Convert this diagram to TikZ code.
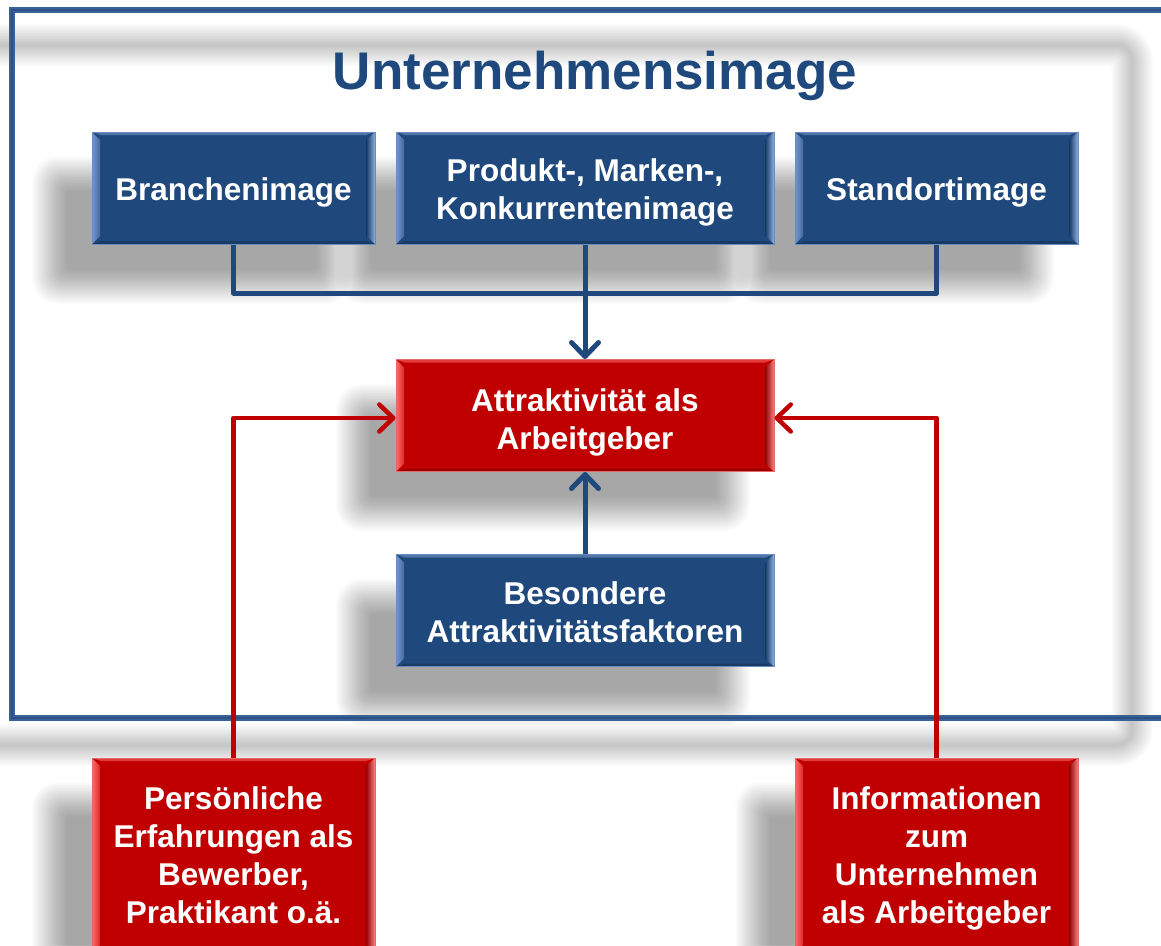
\documentclass[tikz,border=0pt]{standalone}
\usepackage{fontspec}
\setmainfont{Liberation Sans}
\usetikzlibrary{arrows.meta,calc}
\definecolor{boxblue}{HTML}{1F497D}
\definecolor{blueedge}{HTML}{6A8CBE}
\definecolor{bLo}{HTML}{7398CE}
\definecolor{bLi}{HTML}{46699F}
\definecolor{bRi}{HTML}{163863}
\definecolor{bRo}{HTML}{8FB0DE}
\definecolor{bT}{HTML}{5174AA}
\definecolor{bB}{HTML}{183B66}
\definecolor{boxred}{HTML}{C00000}
\definecolor{rededge}{HTML}{E26A6A}
\definecolor{rLo}{HTML}{FF6A6A}
\definecolor{rLi}{HTML}{DD2A2A}
\definecolor{rRi}{HTML}{8E0000}
\definecolor{rRo}{HTML}{FF7E7E}
\definecolor{rT}{HTML}{E33A3A}
\definecolor{rB}{HTML}{9A0000}
\definecolor{conblue}{HTML}{1F497D}
\definecolor{conred}{HTML}{C00000}
\definecolor{framecol}{HTML}{3A6196}
\definecolor{framedark}{HTML}{2B5185}
\definecolor{titleblue}{HTML}{1F497D}
\newcommand\myboxfont{\fontsize{31.5}{38}\selectfont\bfseries}
\newcommand\mybevel[6]{%
  \coordinate (pnw) at (path picture bounding box.north west);
  \coordinate (pse) at (path picture bounding box.south east);
  \coordinate (pne) at (path picture bounding box.north east);
  \coordinate (psw) at (path picture bounding box.south west);
  \fill[#5] (pnw) -- (pne) -- ($(pne)+(-9,3)$) -- ($(pnw)+(9,3)$) -- cycle;
  \fill[#6] (psw) -- (pse) -- ($(pse)+(-9,-3)$) -- ($(psw)+(9,-3)$) -- cycle;
  \fill[left color=#1, right color=#2] (pnw) -- ($(pnw)+(8,8)$) -- ($(psw)+(8,-8)$) -- (psw) -- cycle;
  \fill[left color=#3, right color=#4] (pne) -- ($(pne)+(-9,8)$) -- ($(pse)+(-9,-8)$) -- (pse) -- cycle;
}
\newcommand\softshadow[4]{%
  \foreach \k in {0,...,23}{%
    \pgfmathsetmacro\rr{26-\k}%
    \fill[black,opacity=0.017,rounded corners=\rr pt] (#1-18+1.5*\k,#2-18+1.5*\k) rectangle (#3+18-1.5*\k,#4+18-1.5*\k);}}
\tikzset{
  box/.style={rectangle, inner sep=0pt, line width=1pt},
  boxtext/.style={align=center, text=white, font=\myboxfont, inner sep=0pt},
  narrowbox/.style={minimum width=283pt, minimum height=112pt},
  widebox/.style={minimum width=378pt, minimum height=112pt},
  bluebox/.style={box, fill=boxblue, draw=blueedge, path picture={\mybevel{bLo}{bLi}{bRi}{bRo}{bT}{bB}}},
  redbox/.style={box, fill=boxred, draw=rededge, path picture={\mybevel{rLo}{rLi}{rRi}{rRo}{rT}{rB}}},
  bluecon/.style={draw=conblue, line width=5pt, line join=round},
  redcon/.style={draw=conred, line width=4.5pt, line join=round},
  tip/.style={-{Straight Barb[length=14pt,width=27pt,round]}}
}
\begin{document}
\begin{tikzpicture}[x=1pt,y=-1pt]
\useasboundingbox (0,0) rectangle (1161,945);
\fill[white] (0,0) rectangle (1161,945);
% frame shadow
\foreach \w in {42,39,...,3}{%
  \draw[black,opacity=0.014,line width=\w pt,rounded corners=16pt] (-26,45) rectangle (1132,745);}
% box shadows
\softshadow{50}{174}{333}{286}
\softshadow{354}{174}{732}{286}
\softshadow{753}{174}{1036}{286}
\softshadow{354}{402}{732}{513}
\softshadow{354}{597}{732}{708}
\softshadow{50}{800}{333}{995}
\softshadow{753}{800}{1036}{995}
% frame
\draw[framecol,line width=5.5pt] (12,10) rectangle (1185,718);
\draw[framedark,line width=2.5pt] (12,10) rectangle (1185,718);
% title
\node[font=\fontsize{53}{60}\selectfont\bfseries, text=titleblue, anchor=base, inner sep=0pt] (title) at (595,89) {Unternehmensimage};
% boxes
\node[bluebox,narrowbox] (bi) at (233.5,188) {};
\node[bluebox,widebox] (pk) at (585,188) {};
\node[bluebox,narrowbox] (si) at (936.5,188) {};
\node[redbox,widebox] (at) at (585,415.5) {};
\node[bluebox,widebox] (bf) at (585,610.5) {};
\node[redbox,narrowbox,minimum height=195pt] (pe) at (233.5,855.5) {};
\node[redbox,narrowbox,minimum height=195pt] (in) at (936.5,855.5) {};
% texts
\node[boxtext] (bit) at ($(bi.center)+(0,4)$) {Branchenimage};
\node[boxtext] (pkt) at ($(pk.center)+(0,4)$) {Produkt-, Marken-,\\Konkurrentenimage};
\node[boxtext] (sit) at ($(si.center)+(0,4)$) {Standortimage};
\node[boxtext] (att) at ($(at.center)+(0,6.5)$) {Attraktivit\"at als\\Arbeitgeber};
\node[boxtext] (bft) at ($(bf.center)+(0,2)$) {Besondere\\Attraktivit\"atsfaktoren};
\node[boxtext] (pet) at ($(pe.center)+(0,0)$) {Pers\"onliche\\Erfahrungen als\\Bewerber,\\Praktikant o.\"a.};
\node[boxtext] (int) at ($(in.center)+(0,3)$) {Informationen\\zum\\Unternehmen\\als Arbeitgeber};
% connectors
\coordinate (bus) at (585,293);
\draw[bluecon] (bi.south) |- (bus) -| (si.south);
\draw[bluecon,tip] (pk.south) -- (at.north);
\draw[bluecon,tip] (bf.north) -- (at.south);
\draw[redcon,tip] (pe.north) |- ([yshift=-2.5pt]at.west);
\draw[redcon,tip] (in.north) |- ([yshift=-2.5pt]at.east);
\end{tikzpicture}
\end{document}
